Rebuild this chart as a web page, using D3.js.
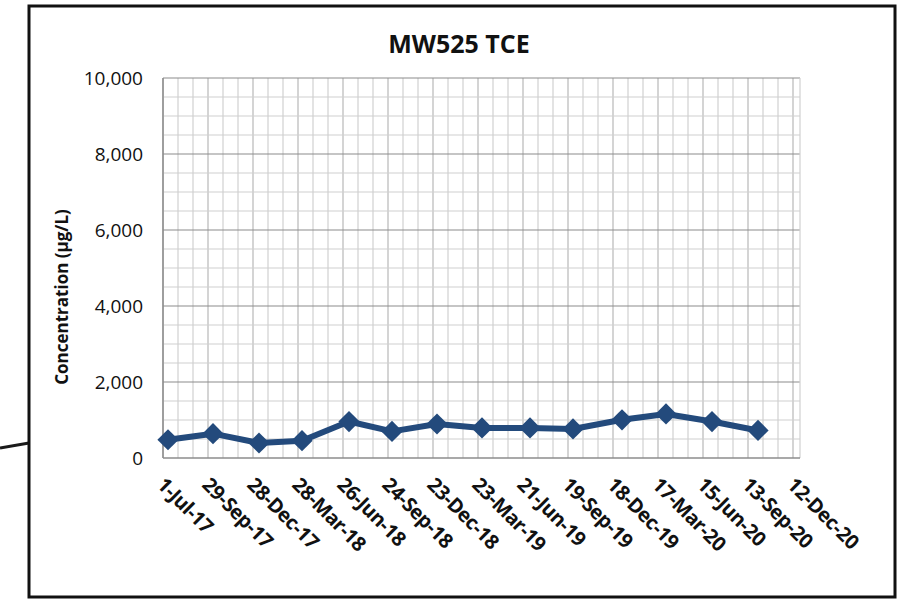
<!DOCTYPE html>
<html>
<head>
<meta charset="utf-8">
<script src="https://cdn.jsdelivr.net/npm/d3@7"></script>
<style>
  body { margin: 0; background: #fff; }
  text { font-family: "Open Sans", "Liberation Sans", sans-serif; }
</style>
</head>
<body>
<svg width="912" height="599"></svg>
<script>
// sample dates and TCE concentrations (ug/L)
var sampleDates = ["2017-07-11", "2017-10-09", "2018-01-09", "2018-04-05", "2018-07-08",
                   "2018-10-02", "2018-12-31", "2019-03-31", "2019-07-05", "2019-09-29",
                   "2020-01-05", "2020-04-02", "2020-07-03", "2020-10-03"];
var tceValues = [480, 640, 395, 455, 960, 700, 895, 790, 790, 765, 1005, 1160, 960, 725];
var yTicks = [0, 2000, 4000, 6000, 8000, 10000];

var parse = d3.timeParse("%Y-%m-%d");
var data = sampleDates.map(function(d, i) { return {date: parse(d), value: tceValues[i]}; });

var svg = d3.select("svg");

// plot area
var plotL = 163, plotR = 800, plotT = 78, plotB = 458;
var start = parse("2017-07-01");
var end = d3.timeDay.offset(start, 1274);

var x = d3.scaleTime().domain([start, end]).range([plotL, plotR]);
var y = d3.scaleLinear().domain([0, 10000]).range([plotB, plotT]);

// stray connector line on the left edge
svg.append("line")
    .attr("x1", 0).attr("y1", 448).attr("x2", 29).attr("y2", 443)
    .attr("stroke", "#1a1a1a").attr("stroke-width", 3);

// outer frame
svg.append("rect")
    .attr("x", 29).attr("y", 6).attr("width", 866).attr("height", 591)
    .attr("fill", "white").attr("stroke", "#111").attr("stroke-width", 3);

// vertical grid, every 30 days
var vLines = d3.range(0, 1275, 30).map(function(n) { return d3.timeDay.offset(start, n); });
svg.append("g").selectAll("line")
    .data(vLines)
    .join("line")
    .attr("x1", d => x(d)).attr("x2", d => x(d))
    .attr("y1", plotT).attr("y2", plotB)
    .attr("stroke", (d, i) => i % 3 === 0 ? "#b8b8b8" : "#d0d0d0")
    .attr("stroke-width", 1.2);

// horizontal grid, minor every 500
svg.append("g").selectAll("line")
    .data(d3.range(500, 10001, 500).filter(v => v % 2000 !== 0))
    .join("line")
    .attr("x1", plotL).attr("x2", plotR)
    .attr("y1", d => y(d)).attr("y2", d => y(d))
    .attr("stroke", "#d0d0d0").attr("stroke-width", 1.2);

// major horizontal grid
svg.append("g").selectAll("line")
    .data(yTicks.slice(1))
    .join("line")
    .attr("x1", plotL).attr("x2", plotR)
    .attr("y1", d => y(d)).attr("y2", d => y(d))
    .attr("stroke", "#8c8c8c").attr("stroke-width", 1.2);

// right edge of plot
svg.append("line")
    .attr("x1", plotR).attr("x2", plotR).attr("y1", plotT).attr("y2", plotB)
    .attr("stroke", "#d0d0d0").attr("stroke-width", 1.2);

// axes lines
svg.append("line")
    .attr("x1", plotL).attr("x2", plotR).attr("y1", plotB).attr("y2", plotB)
    .attr("stroke", "#8c8c8c").attr("stroke-width", 1.5);
svg.append("line")
    .attr("x1", plotL).attr("x2", plotL).attr("y1", plotT).attr("y2", plotB)
    .attr("stroke", "#8c8c8c").attr("stroke-width", 1.5);

// y tick labels
var fmt = d3.format(",");
svg.append("g").selectAll("text")
    .data(yTicks)
    .join("text")
    .attr("x", 143)
    .attr("y", d => y(d))
    .attr("dy", "0.36em")
    .attr("text-anchor", "end")
    .attr("font-size", "19px")
    .attr("fill", "#111")
    .text(d => fmt(d));

// x tick labels every 90 days
var xTicks = d3.range(0, 1275, 90).map(function(n) { return d3.timeDay.offset(start, n); });
var xfmt = d3.timeFormat("%-d-%b-%y");
svg.append("g").selectAll("text")
    .data(xTicks)
    .join("text")
    .attr("transform", d => "translate(" + (x(d) - 7) + "," + 486 + ") rotate(45)")
    .attr("font-size", "20px")
    .attr("font-weight", "bold")
    .attr("letter-spacing", "-0.5px")
    .attr("fill", "#111")
    .text(d => xfmt(d));

// title
svg.append("text")
    .attr("x", 459).attr("y", 53)
    .attr("text-anchor", "middle")
    .attr("font-size", "25px")
    .attr("font-weight", "bold")
    .attr("fill", "#111")
    .text("MW525 TCE");

// y axis title
svg.append("text")
    .attr("transform", "translate(68,297) rotate(-90)")
    .attr("text-anchor", "middle")
    .attr("font-size", "17px")
    .attr("font-weight", "bold")
    .attr("fill", "#111")
    .text("Concentration (\u00b5g/L)");

// series line
var line = d3.line().x(d => x(d.date)).y(d => y(d.value));
svg.append("path")
    .datum(data)
    .attr("d", line)
    .attr("fill", "none")
    .attr("stroke", "#234a7c")
    .attr("stroke-width", 6)
    .attr("stroke-linejoin", "round");

// diamond markers
svg.append("g").selectAll("path")
    .data(data)
    .join("path")
    .attr("transform", d => "translate(" + x(d.date) + "," + y(d.value) + ") rotate(45)")
    .attr("d", "M-7.5,-7.5H7.5V7.5H-7.5Z")
    .attr("fill", "#234a7c");
</script>
</body>
</html>
